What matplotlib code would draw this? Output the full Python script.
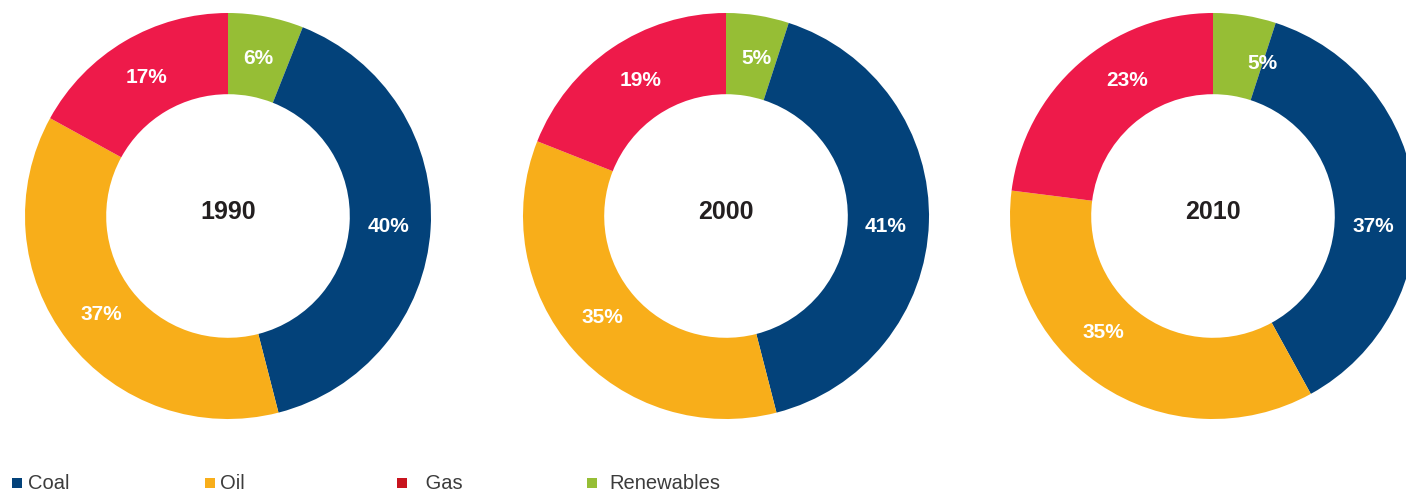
import matplotlib
matplotlib.use("Agg")
import matplotlib.pyplot as plt
from matplotlib.patches import Rectangle
import numpy as np

# data
years = ["1990", "2000", "2010"]
sources = ["Renewables", "Coal", "Oil", "Gas"]   # clockwise from 12 o'clock
shares = {
    "1990": [6, 40, 37, 17],
    "2000": [5, 41, 35, 19],
    "2010": [5, 37, 35, 23],
}
legend_order = ["Coal", "Oil", " Gas", "Renewables"]

slice_colors = {"Renewables": "#96BE35", "Coal": "#03427A", "Oil": "#F8AE1A", "Gas": "#EE1A4A"}
legend_colors = ["#03427A", "#F8AE1A", "#C8141E", "#96BE35"]

# labels in the last ring sit a little further clockwise than the slice middles
label_turn = {"1990": 0, "2000": -2, "2010": -9}

plt.rcParams["font.family"] = ["Liberation Sans", "DejaVu Sans"]

W, H = 1406, 492
fig = plt.figure(figsize=(W / 100, H / 100), dpi=100)

R = 203          # outer radius in px
centers_x = [228, 726, 1213]
center_y = 216

for year, cx in zip(years, centers_x):
    ax = fig.add_axes([(cx - R) / W, (H - center_y - R) / H, 2 * R / W, 2 * R / H])
    vals = shares[year]
    cols = [slice_colors[s] for s in sources]
    ax.pie(vals, colors=cols, startangle=90, counterclock=False,
           radius=1.0, wedgeprops=dict(width=0.40, linewidth=0))
    # percentage labels in the middle of the ring
    total = sum(vals)
    start = 90.0
    for v in vals:
        mid = np.deg2rad(start - 360.0 * v / total / 2 + label_turn[year])
        ax.text(0.79 * np.cos(mid), 0.79 * np.sin(mid), f"{v}%", ha="center", va="center",
                color="white", fontsize=15, fontweight="bold")
        start -= 360.0 * v / total
    ax.text(0, 0.02, year, ha="center", va="center", fontsize=18, fontweight="bold", color="#231F20")
    ax.set_xlim(-1, 1)
    ax.set_ylim(-1, 1)
    ax.set_aspect("equal")
    ax.axis("off")

# legend along the bottom
marker_x = [12, 205, 397, 587]
text_x = [28, 220, 420, 609]
ly = 483
for label, col, mx, tx in zip(legend_order, legend_colors, marker_x, text_x):
    fig.add_artist(Rectangle((mx / W, (H - ly - 5) / H), 10 / W, 10 / H,
                             transform=fig.transFigure, color=col, linewidth=0))
    fig.text(tx / W, (H - 489) / H, label, ha="left", va="baseline", fontsize=14.5, color="#3C3C3C")

fig.savefig("out.png", dpi=100)
plt.close(fig)
